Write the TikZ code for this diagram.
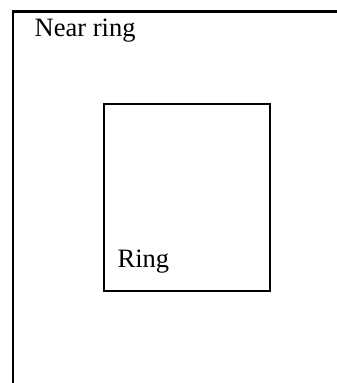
\documentclass[tikz,border=0pt]{standalone}
\usepackage{fontspec}
\setmainfont{Liberation Serif}
\begin{document}
\begin{tikzpicture}[x=1pt,y=1pt,
  frame/.style={draw=black,line width=2.2pt},
  label/.style={inner sep=0pt,anchor=base west,font=\fontsize{26.5}{31}\selectfont}]
\useasboundingbox (0,0) rectangle (337,383);
\draw[frame] (13,0) -- (13,371.5) -- (338,371.5);
\draw[frame] (104,92) rectangle (270,279);
\node[label] (near) at (34.5,346) {Near ring};
\node[label] (ring) at (117.5,115) {Ring};
\end{tikzpicture}
\end{document}
